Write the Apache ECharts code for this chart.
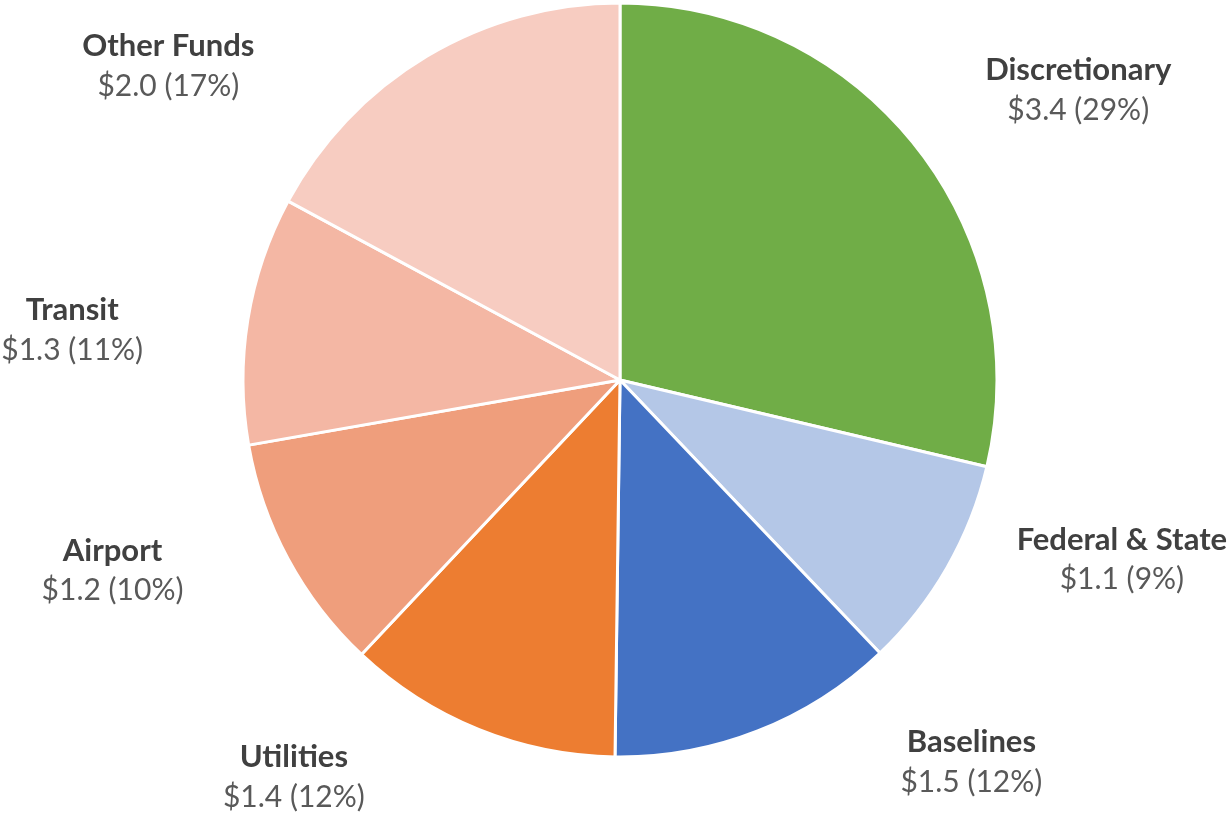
<!DOCTYPE html>
<html>
<head>
<meta charset="utf-8">
<script src="https://cdn.jsdelivr.net/npm/echarts@6/dist/echarts.min.js"></script>
<style>
html,body{margin:0;padding:0;background:#fff;}
#chart{width:1229px;height:815px;}
</style>
</head>
<body>
<div id="chart"></div>
<script>
// ---- data ----
const categories = ['Discretionary', 'Federal & State', 'Baselines', 'Utilities', 'Airport', 'Transit', 'Other Funds'];
const amounts = [3.40, 1.09, 1.46, 1.40, 1.21, 1.26, 2.03]; // $ billions
const sliceColors = ['#70AD47', '#B4C7E7', '#4472C4', '#ED7D31', '#EF9E7C', '#F4B7A4', '#F7CCC1'];

// ---- layout (label placement relative to pie: angle clockwise from top, distance in radii) ----
const pieCenter = [620, 380];
const pieRadius = 377;
const labelPolar = [[57.7, 1.438], [109.7, 1.414], [137.4, 1.377], [219.4, 1.363], [249.4, 1.438], [275.2, 1.459], [304.8, 1.459]];

const total = amounts.reduce((a, b) => a + b, 0);
const chart = echarts.init(document.getElementById('chart'), null, {renderer: 'canvas'});
chart.setOption({
  animation: false,
  backgroundColor: '#ffffff',
  series: [{
    type: 'pie',
    center: pieCenter,
    radius: pieRadius,
    startAngle: 90,
    clockwise: true,
    avoidLabelOverlap: false,
    data: categories.map((c, i) => ({name: c, value: amounts[i], itemStyle: {color: sliceColors[i]}})),
    itemStyle: {borderColor: '#ffffff', borderWidth: 3},
    emphasis: {disabled: true},
    labelLine: {show: false},
    label: {
      show: true,
      position: 'outside',
      formatter: p => '{n|' + p.name + '}\n{v|$' + p.value.toFixed(1) + ' (' + Math.round(p.value / total * 100) + '%)}',
      rich: {
        n: {fontFamily: 'Lato', fontWeight: 'bold', fontSize: 31, color: '#404040', lineHeight: 40, align: 'center'},
        v: {fontFamily: 'Lato', fontSize: 30, color: '#595959', lineHeight: 40, align: 'center'}
      }
    },
    labelLayout: function (params) {
      const lp = labelPolar[params.dataIndex];
      const a = lp[0] * Math.PI / 180;
      const d = lp[1] * pieRadius;
      return {
        x: pieCenter[0] + d * Math.sin(a),
        y: pieCenter[1] - d * Math.cos(a),
        align: 'center',
        verticalAlign: 'middle'
      };
    }
  }]
});
</script>
</body>
</html>
